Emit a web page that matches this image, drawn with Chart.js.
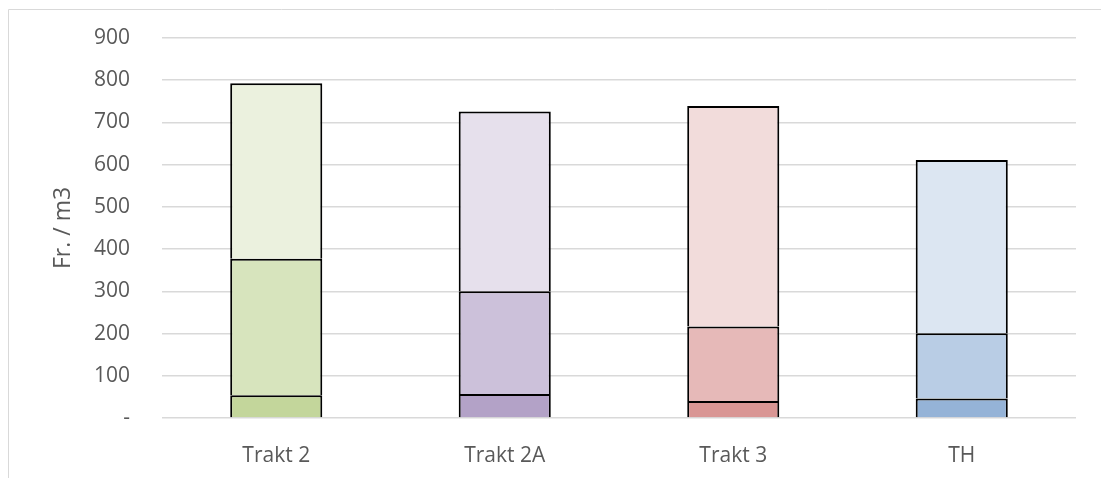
<!DOCTYPE html>
<html>
<head>
<meta charset="utf-8">
<script src="https://cdn.jsdelivr.net/npm/chart.js@4/dist/chart.umd.min.js"></script>
<style>
  html, body { margin: 0; padding: 0; background: #ffffff; overflow: hidden; }
  #wrap { position: relative; width: 1101px; height: 478px; }
</style>
</head>
<body>
<div id="wrap"><canvas id="chart" width="1101" height="478"></canvas></div>
<script>
// Categories and stacked cost components (Fr. / m3)
const categories = ['Trakt 2', 'Trakt 2A', 'Trakt 3', 'TH'];
const baseValues = [54, 57, 40, 46];
const middleValues = [323, 243, 177, 155];
const topValues = [416, 426, 522, 410];
const yTicks = [0, 100, 200, 300, 400, 500, 600, 700, 800, 900];

// One colour family per building, shaded from dark (bottom) to light (top)
const baseColors = ['#c3d69b', '#b3a2c7', '#d99694', '#95b3d7'];
const middleColors = ['#d7e4bd', '#ccc1da', '#e6b9b8', '#b9cde5'];
const topColors = ['#ebf1de', '#e6e0ec', '#f2dcdb', '#dce6f2'];

const FONT = "'Open Sans', 'Noto Sans', sans-serif";
const TEXT = '#595959';
const GRID = '#d9d9d9';

// Thin outer frame along the left and top edges
const framePlugin = {
  id: 'frame',
  beforeDraw(chart) {
    const ctx = chart.ctx;
    ctx.save();
    ctx.strokeStyle = GRID;
    ctx.lineWidth = 1;
    ctx.beginPath();
    ctx.moveTo(8.5, chart.height);
    ctx.lineTo(8.5, 9.5);
    ctx.lineTo(chart.width, 9.5);
    ctx.stroke();
    ctx.restore();
  }
};

function segment(label, values, colors) {
  return {
    label,
    data: values,
    backgroundColor: colors,
    borderColor: '#000000',
    borderWidth: 2,
    borderSkipped: 'start',
    barPercentage: 0.403,
    categoryPercentage: 1.0
  };
}

new Chart(document.getElementById('chart'), {
  type: 'bar',
  data: {
    labels: categories,
    datasets: [
      segment('base', baseValues, baseColors),
      segment('middle', middleValues, middleColors),
      segment('top', topValues, topColors)
    ]
  },
  options: {
    responsive: false,
    animation: false,
    layout: { padding: { left: 50, right: 25, top: 38, bottom: 0 } },
    plugins: { legend: { display: false }, tooltip: { enabled: false } },
    scales: {
      x: {
        stacked: true,
        grid: { display: false },
        border: { display: false },
        ticks: { color: TEXT, font: { family: FONT, size: 21 }, padding: 17 },
        afterFit(scale) { scale.height = 60; }
      },
      y: {
        stacked: true,
        min: 0,
        max: 900,
        afterBuildTicks(scale) { scale.ticks = yTicks.map(v => ({ value: v })); },
        grid: { color: GRID, lineWidth: 1.5, drawTicks: false },
        border: { display: false },
        ticks: {
          color: TEXT,
          font: { family: FONT, size: 21 },
          padding: 32,
          callback: v => (v === 0 ? '-' : String(v))
        },
        title: {
          display: true,
          text: 'Fr. / m3',
          color: TEXT,
          font: { family: FONT, size: 23 },
          padding: 0
        },
        afterFit(scale) {
          scale.width = 112;
          scale.paddingTop = 0;
          scale.paddingBottom = 0;
        }
      }
    }
  },
  plugins: [framePlugin]
});
</script>
</body>
</html>
